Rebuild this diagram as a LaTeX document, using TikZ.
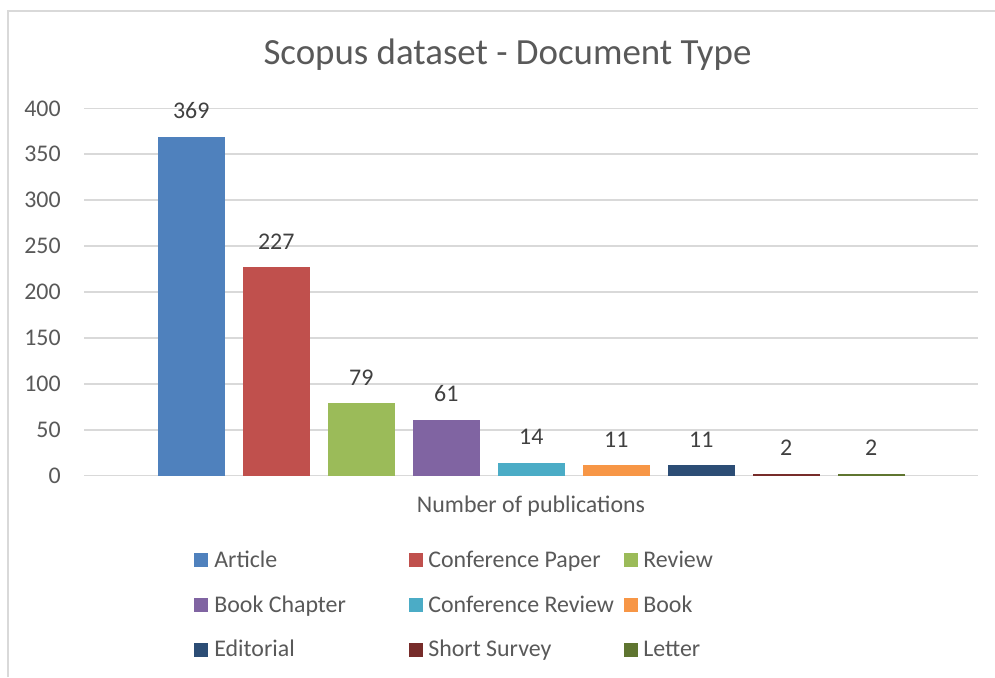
\documentclass[tikz,border=0pt]{standalone}
\usepackage{fontspec}
\setmainfont{Carlito}
\usepackage{tikz}

\definecolor{gridgray}{HTML}{D9D9D9}
\definecolor{textgray}{HTML}{595959}
\definecolor{labelgray}{HTML}{404040}
\definecolor{c_article}{HTML}{4F81BD}
\definecolor{c_confpaper}{HTML}{C0504D}
\definecolor{c_review}{HTML}{9BBB59}
\definecolor{c_bookchap}{HTML}{8064A2}
\definecolor{c_confrev}{HTML}{4BACC6}
\definecolor{c_book}{HTML}{F79646}
\definecolor{c_editorial}{HTML}{2C4D75}
\definecolor{c_survey}{HTML}{772C2A}
\definecolor{c_letter}{HTML}{5F7530}

\begin{document}
\begin{tikzpicture}[x=0.02cm, y=-0.02cm]

	\tikzstyle{frame_line} = [draw=gridgray, line width=1.1pt]
	\tikzstyle{grid_line} = [draw=gridgray, line width=1.1pt]
	\tikzstyle{tick_label} = [anchor=east, inner sep=0pt, text=textgray, font=\fontsize{13.6}{16}\selectfont]
	\tikzstyle{data_label} = [anchor=base, inner sep=0pt, text=labelgray, font=\fontsize{13.6}{16}\selectfont]
	\tikzstyle{legend_box} = [minimum size=0.28cm, inner sep=0pt]
	\tikzstyle{legend_text} = [anchor=base west, inner sep=0pt, text=textgray, font=\fontsize{13.6}{16}\selectfont]

	\useasboundingbox (0,0) rectangle (995,677);
	\fill[white] (0,0) rectangle (995,677);
	\draw[frame_line] (8,677) -- (8,11) -- (995,11);

%------------------------------------------------------------
	\node[anchor=base, inner sep=0pt, text=textgray, font=\fontsize{21}{25}\selectfont] (title) at (507.5,64) {Scopus dataset - Document Type};

%------------------------------------------------------------
	\draw[grid_line] (84,475.5) -- (978,475.5);
	\draw[grid_line] (84,429.6) -- (978,429.6);
	\draw[grid_line] (84,383.6) -- (978,383.6);
	\draw[grid_line] (84,337.7) -- (978,337.7);
	\draw[grid_line] (84,291.8) -- (978,291.8);
	\draw[grid_line] (84,245.9) -- (978,245.9);
	\draw[grid_line] (84,200.0) -- (978,200.0);
	\draw[grid_line] (84,154.1) -- (978,154.1);
	\draw[grid_line] (84,108.5) -- (978,108.5);

	\node[tick_label] (y0) at (61,475.5) {0};
	\node[tick_label] (y50) at (61,429.6) {50};
	\node[tick_label] (y100) at (61,383.6) {100};
	\node[tick_label] (y150) at (61,337.7) {150};
	\node[tick_label] (y200) at (61,291.8) {200};
	\node[tick_label] (y250) at (61,245.9) {250};
	\node[tick_label] (y300) at (61,200.0) {300};
	\node[tick_label] (y350) at (61,154.1) {350};
	\node[tick_label] (y400) at (61,108.5) {400};

%------------------------------------------------------------
	\fill[c_article]   (157.5,475.5) rectangle (225,136.9);
	\fill[c_confpaper] (242.5,475.5) rectangle (310,267.2);
	\fill[c_review]    (327.5,475.5) rectangle (395,403.0);
	\fill[c_bookchap]  (412.5,475.5) rectangle (480,419.5);
	\fill[c_confrev]   (497.5,475.5) rectangle (565,462.7);
	\fill[c_book]      (582.5,475.5) rectangle (650,465.4);
	\fill[c_editorial] (667.5,475.5) rectangle (735,465.4);
	\fill[c_survey]    (752.5,475.5) rectangle (820,473.7);
	\fill[c_letter]    (837.5,475.5) rectangle (905,473.7);

	\node[data_label] (v_article) at (191.25,118.9) {369};
	\node[data_label] (v_confpaper) at (276.25,249.2) {227};
	\node[data_label] (v_review) at (361.25,385.0) {79};
	\node[data_label] (v_bookchap) at (446.25,401.5) {61};
	\node[data_label] (v_confrev) at (531.25,444.7) {14};
	\node[data_label] (v_book) at (616.25,447.4) {11};
	\node[data_label] (v_editorial) at (701.25,447.4) {11};
	\node[data_label] (v_survey) at (786.25,455.7) {2};
	\node[data_label] (v_letter) at (871.25,455.7) {2};

	\node[legend_text, anchor=base] (xtitle) at (531,512) {Number of publications};

%------------------------------------------------------------
	\node[legend_box, fill=c_article] (k_article) at (201,560) {};
	\node[legend_box, fill=c_confpaper] (k_confpaper) at (416,560) {};
	\node[legend_box, fill=c_review] (k_review) at (631,560) {};
	\node[legend_box, fill=c_bookchap] (k_bookchap) at (201,605) {};
	\node[legend_box, fill=c_confrev] (k_confrev) at (416,605) {};
	\node[legend_box, fill=c_book] (k_book) at (631,605) {};
	\node[legend_box, fill=c_editorial] (k_editorial) at (201,650) {};
	\node[legend_box, fill=c_survey] (k_survey) at (416,650) {};
	\node[legend_box, fill=c_letter] (k_letter) at (631,650) {};

	\node[legend_text] (t_article) at (214,567) {Article};
	\node[legend_text] (t_confpaper) at (428,567) {Conference Paper};
	\node[legend_text] (t_review) at (643,567) {Review};
	\node[legend_text] (t_bookchap) at (214,612) {Book Chapter};
	\node[legend_text] (t_confrev) at (428,612) {Conference Review};
	\node[legend_text] (t_book) at (643,612) {Book};
	\node[legend_text] (t_editorial) at (214,656.5) {Editorial};
	\node[legend_text] (t_survey) at (428,656.5) {Short Survey};
	\node[legend_text] (t_letter) at (643,656.5) {Letter};

\end{tikzpicture}
\end{document}
